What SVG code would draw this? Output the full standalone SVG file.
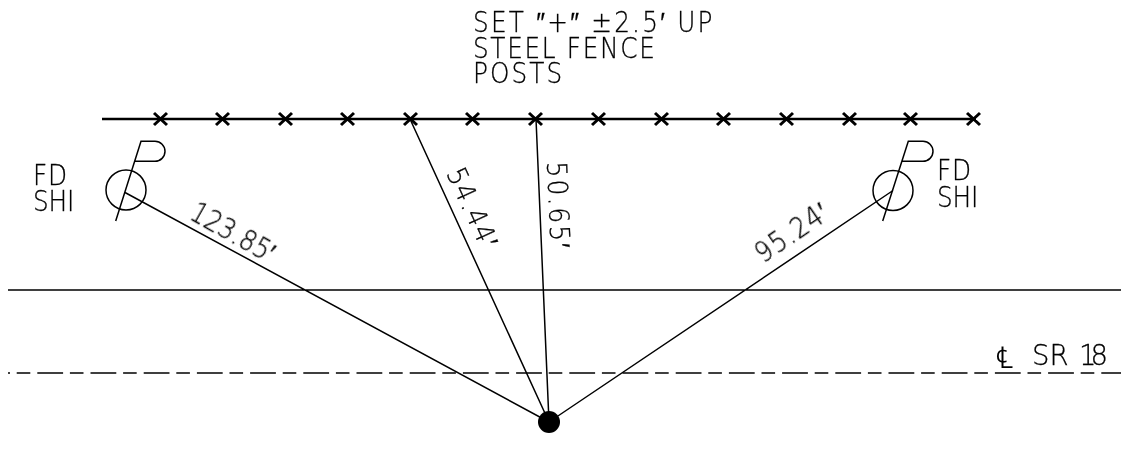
<svg xmlns="http://www.w3.org/2000/svg" width="1121" height="454" viewBox="0 0 1121 454">
<style>
text{font-family:"DejaVu Sans","Liberation Sans",sans-serif;font-weight:200;font-size:27.5px;fill:#000;stroke:#000;stroke-width:.3px}
.l{fill:none;stroke:#000;stroke-width:1.5}
.f{fill:none;stroke:#000;stroke-width:2.6}
.x{fill:none;stroke:#000;stroke-width:3}
</style>
<rect width="1121" height="454" fill="#fff"/>
<g id="fence"><path class="f" d="M102 119H976"/>
<path class="x" d="M154 113l13 12m0-12l-13 12M216 113l13 12m0-12l-13 12M279 113l13 12m0-12l-13 12M341 113l13 12m0-12l-13 12M404 113l13 12m0-12l-13 12M466 113l13 12m0-12l-13 12M529 113l13 12m0-12l-13 12M592 113l13 12m0-12l-13 12M655 113l13 12m0-12l-13 12M717 113l13 12m0-12l-13 12M780 113l13 12m0-12l-13 12M843 113l13 12m0-12l-13 12M904 113l13 12m0-12l-13 12M967 113l13 12m0-12l-13 12"/></g>
<g id="connectors">
<path class="l" d="M125 192.5L549 422M410 119L549 422M536 119L549 422M893 190.5L549 422M8 290H1121"/>
<path class="l" d="M8 373H10"/><path class="l" d="M16.7 373H1121" stroke-dasharray="13.6 7 25.8 6.8"/>
</g>
<g id="shi-left"><circle class="l" cx="126" cy="190" r="20"/><path class="l" d="M115.7 221L141 141.3H155A10 10 0 0 1 155 161.3H134.5"/></g>
<g id="shi-right"><circle class="l" cx="893" cy="190.5" r="20"/><path class="l" d="M882.7 221L908.3 141.3H923A10 10 0 0 1 923 161.3H902.3"/></g>
<g id="point"><circle cx="549" cy="422" r="11"/></g>
<g id="labels" opacity="0.999">
<text transform="translate(473 32) scale(.9 1)" textLength="266" lengthAdjust="spacing">SET ″+″ ±2.5′ UP</text>
<text transform="translate(473 57.5) scale(.9 1)" textLength="202" lengthAdjust="spacing">STEEL FENCE</text>
<text transform="translate(473 83) scale(.9 1)" textLength="99" lengthAdjust="spacing">POSTS</text>
<text transform="translate(33 184.5) scale(.9 1)" textLength="38" lengthAdjust="spacing">FD</text>
<text transform="translate(33 210.5) scale(.9 1)" textLength="46" lengthAdjust="spacing">SHI</text>
<text transform="translate(937 180) scale(.9 1)" textLength="38" lengthAdjust="spacing">FD</text>
<text transform="translate(937 206.5) scale(.9 1)" textLength="46" lengthAdjust="spacing">SHI</text>
<text y="365"><tspan x="996" y="368" font-size="30" stroke-width="0">℄</tspan><tspan x="1032" y="365">SR</tspan><tspan x="1079" y="365" letter-spacing="-6">18</tspan></text>
<text transform="translate(188 218) rotate(29.5) scale(.9 1)" textLength="102" lengthAdjust="spacing">123.85′</text>
<text transform="translate(763 264) rotate(-34.5) scale(.9 1)" textLength="91" lengthAdjust="spacing">95.24′</text>
<text transform="translate(446 173) rotate(65.4) scale(.9 1)" textLength="94" lengthAdjust="spacing">54.44′</text>
<text transform="translate(547 162) rotate(87.5) scale(.9 1)" textLength="96" lengthAdjust="spacing">50.65′</text>
</g>
</svg>
